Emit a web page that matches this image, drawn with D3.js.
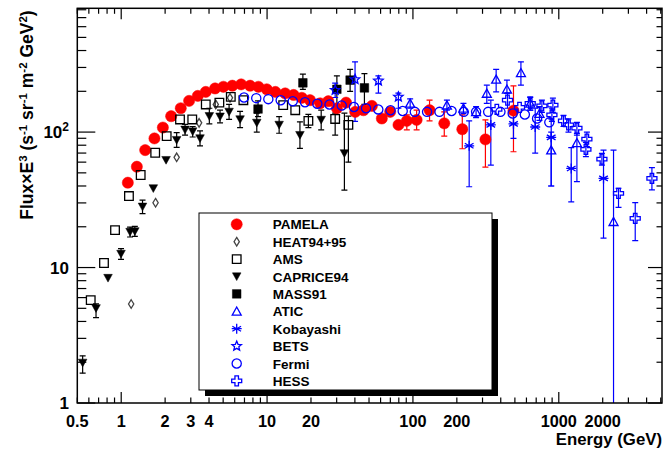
<!DOCTYPE html>
<html><head><meta charset="utf-8">
<script src="https://cdn.jsdelivr.net/npm/d3@7"></script>
<style>body{margin:0;background:#fff}svg{display:block}text{font-family:"Liberation Sans",Arial,sans-serif;font-weight:bold}</style>
</head><body><svg id="c" width="667" height="449"></svg>
<script>
// ---------------- data ----------------
const pamelaE=[1.11,1.28,1.46,1.69,1.93,2.20,2.56,2.92,3.35,3.80,4.40,5.02,5.78,6.64,7.65,8.72,9.95,11.4,13.3,15.2,17.3,19.7,23.1,26.3,30.1,34.8,40.2,45.8,52.3,61.2,69.8,79.6,90.8,106,130,164,218,314,489];
const pamelaF=[42.3,55.5,73.6,89.8,108,131,150,170,185,198,210,216,220,225,220,216,207,198,193,188,179,172,163,169,150,165,141,145,156,126,141,113,121,123,145,116,105,88.3,144];
const pamelaLo=[null,null,null,null,null,null,null,null,null,null,null,null,null,null,null,null,null,null,null,null,null,null,null,null,null,null,null,null,null,null,null,null,104,104,121,93.4,75.3,55.2,71.6];
const pamelaHi=[null,null,null,null,null,null,null,null,null,null,null,null,null,null,null,null,null,null,null,null,null,null,null,null,null,null,null,null,null,null,null,null,134,145,172,141,134,123,219];

const heatE=[1.17,1.72,2.40,3.42,4.45,5.57];
const heatF=[5.38,30.1,65.1,117,160,179];

const amsE=[0.618,0.762,0.907,1.13,1.36,1.71,2.05,2.53,3.07,3.80,4.71,5.64,6.88,12.9,15.6,19.2,29.3,36.1];
const amsF=[5.75,10.8,18.9,33.7,48.2,70.4,93.4,124,124,160,165,182,172,158,145,121,125,113];
const amsLo=[null,null,null,null,null,null,null,null,null,null,null,null,null,null,null,108,95,60];
const amsHi=[null,null,null,null,null,null,null,null,null,null,null,null,null,null,null,135,138,131];

const capE=[0.544,0.672,0.812,0.997,1.15,1.24,1.40,1.66,2.03,2.40,2.74,3.09,3.47,4.02,4.76,5.49,6.53,8.50,12.1,16.8,23.5,33.9];
const capF=[1.98,5.0,8.37,12.6,18.3,18.5,28.1,38.4,62.1,87.3,104,101,89.8,131,130,141,124,117,113,95.0,123,69.7];
const capLo=[1.66,4.27,null,11.5,16.8,17.0,25.0,null,null,77,95,92,79,115,117,124,108,100,98,75.8,104,37.3];
const capHi=[2.23,5.39,null,13.8,19.9,20.1,31.5,null,null,99,114,110,102,150,145,160,142,138,130,119,145,138];

const massE=[8.67,17.6,30.1,37.1,46.5];
const massF=[148,231,207,242,212];
const massLo=[130,207,160,200,160];
const massHi=[170,268,260,290,270];

const aticE=[95.7,171,222,271,321,372,441,550,637,737,887,1331,2373];
const aticF=[163,158,150,141,193,245,207,274,163,137,73.6,83.4,21.8];
const aticLo=[150,145,137,128,163,198,193,222,145,122,40,43.1,0.5];
const aticHi=[176,172,163,154,222,290,242,330,182,154,100,97.8,73.6];

const kobE=[243,342,489,689,887,1217,2026];
const kobF=[79.2,113,115,109,91.4,53.9,45.5];
const kobLo=[39.5,57.1,90,70,40,30.5,16.5];
const kobHi=[121,172,145,150,125,76.8,73.6];

const betsE=[29.3,40.1,58.0,79.5];
const betsF=[204,245,239,182];
const betsLo=[180,120,194,150];
const betsHi=[230,330,260,194];

const fermiE=[6.95,8.43,10.2,12.4,15.0,18.2,22.1,26.8,32.5,39.4,47.7,57.9,70.2,85.1,103,125,152,184,223,271,328,398,483,585,710,861];
const fermiF=[180,178,175,172,169,166,162,160,157,153,150,147,145,143,141,141,141,143,141,141,141,141,137,135,126,118];

const hessE=[376,445,538,637,766,911,897,1077,1165,1331,1558,1534,1975,2567,3342,4350];
const hessF=[147,172,152,163,156,158,134,121,113,107,88.8,74.5,63.2,35.3,23.1,45.5];
const hessLo=[null,150,null,145,140,140,120,110,100,95,78,66,57.1,27.8,15.8,37.4];
const hessHi=[null,195,null,180,172,178,150,133,125,118,100,84,69.7,38.5,30.1,54.6];

const legendLabels=["PAMELA","HEAT94+95","AMS","CAPRICE94","MASS91","ATIC","Kobayashi","BETS","Fermi","HESS"];
const xTickLabels=[0.5,1,2,3,4,10,20,100,200,1000,2000];
const yTickLabels=[1,10,100];

// ---------------- setup ----------------
const svg=d3.select("#c");
const L=77.3,R=662,T=8.3,B=403;
const x=d3.scaleLog().domain([0.5,5100]).range([L,R]);
const y=d3.scaleLog().domain([1,820]).range([B,T]);
const RED="#ff0000",BLUE="#0000ff",BLK="#000";

const shapes={
  circle:r=>d3.symbol(d3.symbolCircle,Math.PI*r*r)(),
  square:s=>`M${-s},${-s}h${2*s}v${2*s}h${-2*s}Z`,
  tdown:s=>`M${-s},${-s*0.85}L${s},${-s*0.85}L0,${s*0.95}Z`,
  tup:s=>`M${-s},${s*0.85}L${s},${s*0.85}L0,${-s*0.95}Z`,
  diamond:s=>`M0,${-s*1.3}L${s*0.8},0L0,${s*1.3}L${-s*0.8},0Z`,
  aster:s=>{const a=s*0.87,b=s*0.5;return `M${-s},0L${s},0M${-a},${-b}L${a},${b}M${-a},${b}L${a},${-b}M0,${-s}L0,${s}`;},
  ocross:s=>{const a=s*0.35;return `M${-a},${-s}H${a}V${-a}H${s}V${a}H${a}V${s}H${-a}V${a}H${-s}V${-a}H${-a}Z`;},
  star:s=>{let p=[];for(let i=0;i<10;i++){const r=i%2?s*0.45:s;const t=-Math.PI/2+i*Math.PI/5;p.push([r*Math.cos(t),r*Math.sin(t)]);}return "M"+p.map(q=>q.join(",")).join("L")+"Z";}
};

const series=[
  {E:pamelaE,F:pamelaF,lo:pamelaLo,hi:pamelaHi,shape:"circle",size:5.6,col:RED,fill:true},
  {E:heatE,F:heatF,shape:"diamond",size:3.3,col:"#444",fill:false},
  {E:amsE,F:amsF,lo:amsLo,hi:amsHi,shape:"square",size:4.3,col:BLK,fill:false},
  {E:capE,F:capF,lo:capLo,hi:capHi,shape:"tdown",size:4.3,col:BLK,fill:true},
  {E:massE,F:massF,lo:massLo,hi:massHi,shape:"square",size:4.3,col:BLK,fill:true},
  {E:aticE,F:aticF,lo:aticLo,hi:aticHi,shape:"tup",size:4.5,col:BLUE,fill:false},
  {E:kobE,F:kobF,lo:kobLo,hi:kobHi,shape:"aster",size:5,col:BLUE,fill:false},
  {E:betsE,F:betsF,lo:betsLo,hi:betsHi,shape:"star",size:5,col:BLUE,fill:false},
  {E:fermiE,F:fermiF,shape:"circle",size:4.6,col:BLUE,fill:false},
  {E:hessE,F:hessF,lo:hessLo,hi:hessHi,shape:"ocross",size:5,col:BLUE,fill:false}
];

svg.append("defs").append("clipPath").attr("id","pc").append("rect")
  .attr("x",L).attr("y",T).attr("width",R-L).attr("height",B-T);
const plot=svg.append("g").attr("clip-path","url(#pc)");

// error bars
series.forEach(s=>{
  if(!s.lo) return;
  const g=plot.append("g").attr("stroke",s.col).attr("stroke-width",1.2).attr("fill","none");
  s.E.forEach((e,i)=>{
    const lo=s.lo[i],hi=s.hi[i];
    if(lo==null||hi==null) return;
    const cx=x(e);
    g.append("line").attr("x1",cx).attr("x2",cx).attr("y1",y(hi)).attr("y2",y(Math.max(lo,0.5)));
    [hi,lo].forEach(v=>{ if(v>=1) g.append("line").attr("x1",cx-3).attr("x2",cx+3).attr("y1",y(v)).attr("y2",y(v)); });
  });
});
// markers
function drawMarker(g,s,cx,cy){
  g.append("path").attr("d",shapes[s.shape](s.size)).attr("transform",`translate(${cx},${cy})`)
   .attr("fill",s.fill?s.col:"none")
   .attr("stroke",s.col).attr("stroke-width",s.fill?0.5:1.3);
}
series.forEach(s=>{
  const g=plot.append("g");
  s.E.forEach((e,i)=>drawMarker(g,s,x(e),y(s.F[i])));
});

// ---------------- axes / frame ----------------
const ax=svg.append("g").attr("stroke",BLK).attr("stroke-width",1.2);
const xt=x.ticks().filter(v=>v>=0.5&&v<=5100);
xt.forEach(v=>{
  const major=Math.abs(Math.log10(v)-Math.round(Math.log10(v)))<1e-9;
  const len=major?11:5.5;
  ax.append("line").attr("x1",x(v)).attr("x2",x(v)).attr("y1",B).attr("y2",B-len);
  ax.append("line").attr("x1",x(v)).attr("x2",x(v)).attr("y1",T).attr("y2",T+len);
});
const yt=y.ticks().filter(v=>v>=1&&v<=820);
yt.forEach(v=>{
  const major=Math.abs(Math.log10(v)-Math.round(Math.log10(v)))<1e-9;
  ax.append("line").attr("x1",L).attr("x2",L+(major?18:9)).attr("y1",y(v)).attr("y2",y(v));
  ax.append("line").attr("x1",R).attr("x2",R-(major?14:5.5)).attr("y1",y(v)).attr("y2",y(v));
});
svg.append("rect").attr("x",L).attr("y",T).attr("width",R-L).attr("height",B-T)
  .attr("fill","none").attr("stroke",BLK).attr("stroke-width",1.5);

xTickLabels.forEach(v=>{
  svg.append("text").attr("x",x(v)).attr("y",426.5).attr("text-anchor","middle")
    .attr("font-size",16.3).text(v);
});
yTickLabels.forEach(v=>{
  const t=svg.append("text").attr("x",69).attr("y",y(v)+6).attr("text-anchor","end").attr("font-size",17);
  if(v===100){t.text("10");t.append("tspan").attr("dy",-7).attr("font-size",12).text("2");}
  else t.text(v);
});
svg.append("text").attr("x",R).attr("y",444.5).attr("text-anchor","end").attr("font-size",16.8).text("Energy (GeV)");
const yl=svg.append("text").attr("transform",`translate(33,${T+2}) rotate(-90)`).attr("text-anchor","end").attr("font-size",17.5);
const parts=[["Flux×E",0],["3",1],[" (s",0],["-1",1],[" sr",0],["-1",1],[" m",0],["-2",1],[" GeV",0],["2",1],[")",0]];
parts.forEach(p=>{
  if(p[1]) yl.append("tspan").attr("font-size",11.5).attr("baseline-shift","super").text(p[0]);
  else yl.append("tspan").text(p[0]);
});

// ---------------- legend ----------------
const lx=199,ly=213,lw=293,lh=177;
svg.append("rect").attr("x",lx+6).attr("y",ly+6).attr("width",lw).attr("height",lh).attr("fill",BLK);
svg.append("rect").attr("x",lx).attr("y",ly).attr("width",lw).attr("height",lh).attr("fill","#fff").attr("stroke",BLK).attr("stroke-width",1);
legendLabels.forEach((lab,i)=>{
  const cy=ly+11.3+i*17.4;
  const g=svg.append("g");
  drawMarker(g,series[i],236.7,cy);
  svg.append("text").attr("x",272.7).attr("y",cy+5).attr("font-size",13.5).text(lab);
});
</script></body></html>
